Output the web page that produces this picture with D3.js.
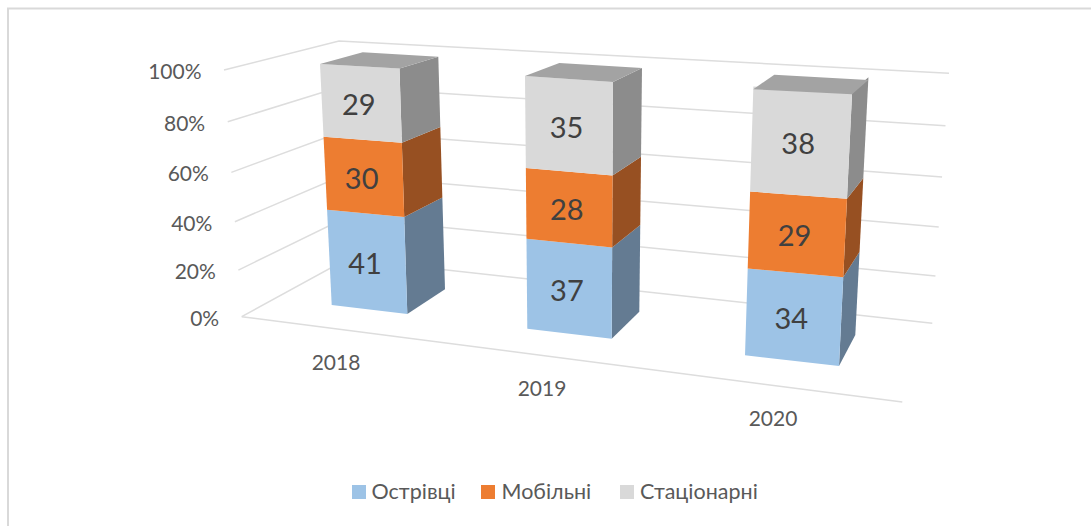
<!DOCTYPE html>
<html>
<head>
<meta charset="utf-8">
<script src="https://cdn.jsdelivr.net/npm/d3@7/dist/d3.min.js"></script>
<style>
html,body{margin:0;padding:0;background:#fff;overflow:hidden}
svg{display:block}
text{font-family:Lato,"Open Sans","Noto Sans",sans-serif}
</style>
</head>
<body>
<div id="chart"></div>
<script>
// ---- data
const categories = ["2018", "2019", "2020"];
const seriesNames = ["Острівці", "Мобільні", "Стаціонарні"];
const ostrivtsi = [41, 37, 34];
const mobilni = [30, 28, 29];
const statsionarni = [29, 35, 38];
const tickValues = [0, 20, 40, 60, 80, 100];

// ---- style
const frontColors = ["#9DC3E6", "#ED7D31", "#D9D9D9"];
const sideColors = ["#647B92", "#975022", "#8C8C8C"];
const topColor = "#A3A3A3";

// ---- layout: the projected frame of the 3D plot (corner at 0% -> corner at 100%)
const W = 1091, H = 526;
const perspective = d3.scaleLinear()
  .domain(tickValues)
  .range([0, 0.189, 0.385, 0.585, 0.79, 1]);

const wallFront = {b:[241.7,316.7], t:[224,70]};
const wallBack  = {b:[347,259],    t:[339,41]};
const wallRight = {b:[932.3,323.3], t:[949,73.3]};
const floorFront = [902.3,402];

const barFrames = [
  {fl:{b:[331.7,305],t:[320,64]},   fr:{b:[407.3,314],t:[399.5,68.5]}, br:{b:[445,289.3],t:[438.3,56.7]},   bl:[362.7,52.3]},
  {fl:{b:[527.3,328.7],t:[525,76]}, fr:{b:[611.7,338.7],t:[613,82]},   br:{b:[639.3,311.7],t:[642,68]},     bl:[559.3,63]},
  {fl:{b:[745,355.3],t:[753.3,89.3]}, fr:{b:[839,366],t:[852,94.3]},   br:{b:[855.3,335],t:[868.3,80]},     bl:[774.3,74.7]}
];

const axisLabelPos = {dx:-22.5, dy:3.5};
const catLabelPos = [[336,365],[542,391],[773,421]];
const legendItems = [{sx:352,tx:371.5},{sx:481,tx:501.5},{sx:620,tx:640}];
const dataLabelOffset = {dx:-2.5, dy:5};

// ---- helpers
const at = (edge, v) => d3.interpolate(edge.b, edge.t)(perspective(v));
const poly = pts => d3.line()(pts) + "Z";

const svg = d3.select("#chart").append("svg").attr("width", W).attr("height", H);

// chart frame
svg.append("path")
  .attr("d", "M8,526V8.5H1091")
  .attr("fill","none").attr("stroke","#D9D9D9").attr("stroke-width",2);

// gridlines
const grid = svg.append("g").attr("fill","none").attr("stroke","#DDDDDD").attr("stroke-width",1.5);
tickValues.forEach(v => {
  grid.append("path").attr("d", d3.line()([at(wallFront,v), at(wallBack,v), at(wallRight,v)]));
});
grid.append("path").attr("d", d3.line()([wallFront.b, floorFront]));

// axis labels
svg.append("g").selectAll("text").data(tickValues).join("text")
  .attr("x", v => at(wallFront,v)[0] + axisLabelPos.dx)
  .attr("y", v => at(wallFront,v)[1] + axisLabelPos.dy)
  .attr("dominant-baseline","middle")
  .attr("text-anchor","end")
  .attr("font-size",21).attr("fill","#595959")
  .text(v => v + "%");

// category labels
svg.append("g").selectAll("text").data(categories).join("text")
  .attr("x",(d,i)=>catLabelPos[i][0]).attr("y",(d,i)=>catLabelPos[i][1])
  .attr("dominant-baseline","middle").attr("text-anchor","middle")
  .attr("font-size",21).attr("fill","#595959")
  .text(d=>d);

// bars
const seriesValues = [ostrivtsi, mobilni, statsionarni];
const stacks = d3.stack().keys([0,1,2]).value((d,k)=>d[k])(categories.map((c,i)=>seriesValues.map(s=>s[i])));

categories.forEach((c,i) => {
  const f = barFrames[i];
  const g = svg.append("g");
  stacks.forEach((layer,k) => {
    const [v0,v1] = layer[i];
    g.append("path").attr("fill",sideColors[k])
      .attr("d", poly([at(f.fr,v0),at(f.br,v0),at(f.br,v1),at(f.fr,v1)]));
    g.append("path").attr("fill",frontColors[k])
      .attr("d", poly([at(f.fl,v0),at(f.fr,v0),at(f.fr,v1),at(f.fl,v1)]));
  });
  g.append("path").attr("fill",topColor)
    .attr("d", poly([at(f.fl,100),at(f.fr,100),at(f.br,100),f.bl]));
  stacks.forEach((layer,k) => {
    const [v0,v1] = layer[i];
    const a=at(f.fl,v0), b=at(f.fr,v0), c2=at(f.fr,v1), d=at(f.fl,v1);
    g.append("text")
      .attr("x",(a[0]+b[0]+c2[0]+d[0])/4 + dataLabelOffset.dx)
      .attr("y",(a[1]+b[1]+c2[1]+d[1])/4 + dataLabelOffset.dy)
      .attr("dominant-baseline","middle").attr("text-anchor","middle")
      .attr("font-size",29).attr("fill","#404040")
      .text(seriesValues[k][i]);
  });
});

// legend
const lg = svg.append("g").selectAll("g").data(seriesNames).join("g");
lg.append("rect").attr("x",(d,i)=>legendItems[i].sx).attr("y",485).attr("width",14).attr("height",14)
  .attr("fill",(d,i)=>frontColors[i]);
lg.append("text").attr("x",(d,i)=>legendItems[i].tx).attr("y",499)
  .attr("font-size",21.5).attr("fill","#595959").text(d=>d);
</script>
</body>
</html>
